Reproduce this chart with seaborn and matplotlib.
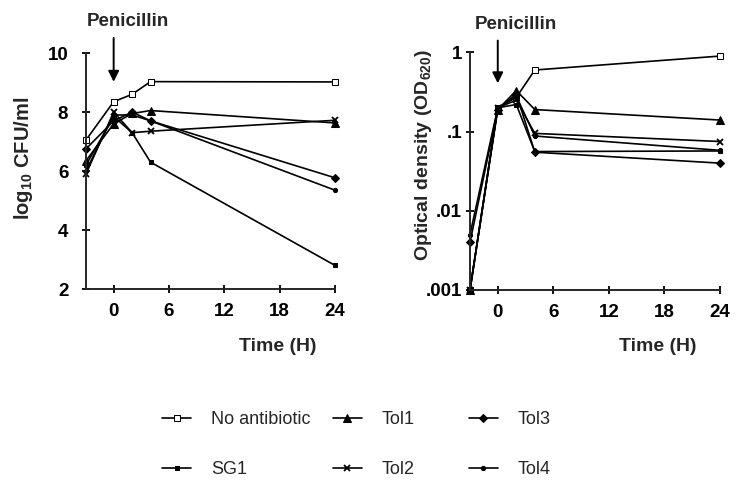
"""Penicillin kill curves: viable counts and optical density."""

import matplotlib
matplotlib.use("Agg")
import matplotlib.pyplot as plt
import seaborn as sns

# sampling times (h)
time_h = [-3, 0, 2, 4, 24]

strains = ["No antibiotic", "SG1", "Tol1", "Tol2", "Tol3", "Tol4"]

# log10 CFU/ml
cfu_no_abx = [7.05, 8.35, 8.6, 9.03, 9.02]
cfu_sg1 = [6.2, 7.85, 7.3, 6.3, 2.8]
cfu_tol1 = [6.35, 7.6, 7.95, 8.05, 7.63]
cfu_tol2 = [5.9, 8.0, 7.3, 7.35, 7.72]
cfu_tol3 = [6.75, 7.7, 8.0, 7.7, 5.77]
cfu_tol4 = [6.0, 7.9, 7.9, 7.7, 5.35]

# OD620
od_no_abx = [0.001, 0.2, 0.27, 0.6, 0.9]
od_sg1 = [0.001, 0.2, 0.22, 0.056, 0.057]
od_tol1 = [0.001, 0.19, 0.33, 0.19, 0.14]
od_tol2 = [0.001, 0.2, 0.25, 0.095, 0.075]
od_tol3 = [0.004, 0.19, 0.3, 0.055, 0.04]
od_tol4 = [0.005, 0.2, 0.28, 0.088, 0.058]

x_ticks = [0, 6, 12, 18, 24]
cfu_ticks = [2, 4, 6, 8, 10]
od_ticks = [0.001, 0.01, 0.1, 1]
od_tick_labels = [".001", ".01", ".1", "1"]

cfu_series = [cfu_no_abx, cfu_sg1, cfu_tol1, cfu_tol2, cfu_tol3, cfu_tol4]
od_series = [od_no_abx, od_sg1, od_tol1, od_tol2, od_tol3, od_tol4]

# marker style per strain
styles = [
    dict(marker="s", markersize=5, markerfacecolor="white"),
    dict(marker="s", markersize=3, markerfacecolor="black"),
    dict(marker="^", markersize=6, markerfacecolor="black"),
    dict(marker="x", markersize=5, markeredgewidth=1.3),
    dict(marker="D", markersize=4.5, markerfacecolor="black"),
    dict(marker="o", markersize=3, markerfacecolor="black"),
]

sns.set_style("ticks")
plt.rcParams["font.family"] = ["Liberation Sans", "DejaVu Sans"]
plt.rcParams["mathtext.fontset"] = "custom"
plt.rcParams["mathtext.bf"] = "Liberation Sans:bold"
plt.rcParams["mathtext.rm"] = "Liberation Sans:bold"
plt.rcParams["mathtext.default"] = "bf"

fig = plt.figure(figsize=(7.51, 4.86), dpi=100)
ax1 = fig.add_axes([0.1145, 0.4053, 0.3316, 0.4856])
ax2 = fig.add_axes([0.6258, 0.4033, 0.333, 0.4888])


def draw_panel(ax, series):
    for name, values, st in zip(strains, series, styles):
        sns.lineplot(
            x=time_h,
            y=values,
            ax=ax,
            color="black",
            linewidth=1.2,
            markeredgecolor="black",
            clip_on=False,
            errorbar=None,
            legend=False,
            label=name,
            **st,
        )
    ax.set_xlim(-3, 24)
    ax.set_xticks(x_ticks)
    ax.set_xticklabels([str(t) for t in x_ticks], fontsize=13.5, fontweight="bold")
    for side in ["top", "right"]:
        ax.spines[side].set_visible(False)
    for side in ["left", "bottom"]:
        ax.spines[side].set_linewidth(1.4)
    ax.tick_params(direction="inout", length=5.5, width=1.3, colors="black")
    ax.tick_params(axis="x", pad=7)
    ax.set_xlabel("Time (H)", fontsize=14, fontweight="bold")


draw_panel(ax1, cfu_series)
ax1.set_ylim(2, 10)
ax1.set_yticks(cfu_ticks)
ax1.set_yticklabels([str(v) for v in cfu_ticks], fontsize=13.5, fontweight="bold")
ax1.tick_params(axis="y", pad=10)
ax1.set_ylabel(r"log$_{10}$ CFU/ml", fontsize=14.5, fontweight="bold")
ax1.yaxis.set_label_coords(-0.205, 0.555)
ax1.xaxis.set_label_coords(0.77, -0.208)

draw_panel(ax2, od_series)
ax2.set_yscale("log")
ax2.set_ylim(0.001, 1)
ax2.set_yticks(od_ticks)
ax2.set_yticklabels(od_tick_labels, fontsize=13.5, fontweight="bold")
ax2.minorticks_off()
ax2.tick_params(axis="y", pad=3)
ax2.set_ylabel(r"Optical density (OD$_{620}$)", fontsize=14, fontweight="bold")
ax2.yaxis.set_label_coords(-0.142, 0.569)
ax2.xaxis.set_label_coords(0.75, -0.2)

# penicillin arrows
for ax, top, tip, tx in [(ax1, 1.064, 0.878, 1.5), (ax2, 1.05, 0.87, 1.95)]:
    ax.annotate(
        "",
        xy=(0, tip),
        xytext=(0, top),
        xycoords=("data", "axes fraction"),
        textcoords=("data", "axes fraction"),
        arrowprops=dict(arrowstyle="-|>", color="black", lw=1.4,
                        mutation_scale=16, shrinkA=0, shrinkB=0),
        annotation_clip=False,
    )
    ax.text(tx, top + 0.068, "Penicillin", transform=ax.get_xaxis_transform(),
            ha="center", va="center", fontsize=13.5, fontweight="bold")

# legend: three columns of two entries
handles, labels = ax1.get_legend_handles_labels()
for i, xpos in enumerate([0.216, 0.443, 0.624]):
    fig.legend(
        handles[2 * i:2 * i + 2],
        labels[2 * i:2 * i + 2],
        loc="center left",
        bbox_to_anchor=(xpos, 0.085),
        frameon=False,
        fontsize=13,
        handlelength=1.6,
        handletextpad=1.1,
        labelspacing=1.85,
        borderpad=0,
        borderaxespad=0,
    )

fig.savefig("out.png", dpi=100)
plt.close(fig)
